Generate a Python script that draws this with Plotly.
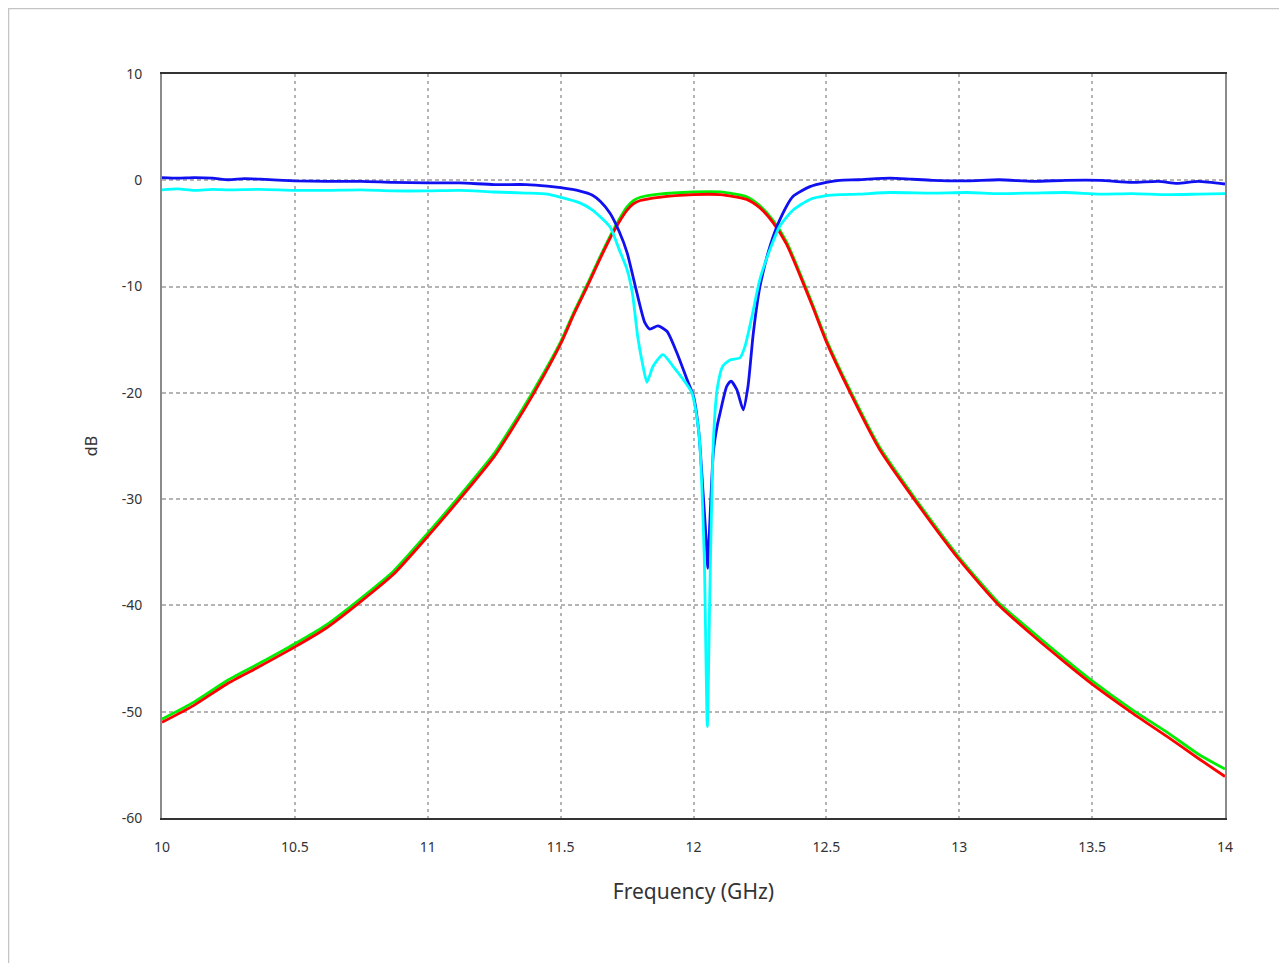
import plotly.graph_objects as go

# ---- S21 (green) / S12 (red) transmission ----
s21_freq = [10.00, 10.12, 10.25, 10.37, 10.50, 10.62, 10.75, 10.87, 11.00, 11.12, 11.25, 11.32,
            11.40, 11.50, 11.55, 11.60, 11.65, 11.70, 11.75, 11.775, 11.80, 11.87, 12.00, 12.10,
            12.20, 12.25, 12.30, 12.35, 12.40, 12.45, 12.50, 12.59, 12.70, 12.83, 13.00, 13.15,
            13.28, 13.40, 13.50, 13.65, 13.78, 13.90, 14.00]
s12_db = [-51.0, -49.4, -47.3, -45.7, -43.9, -42.1, -39.6, -37.1, -33.5, -30.0, -26.0, -23.3,
          -20.0, -15.4, -12.6, -10.0, -7.3, -4.8, -2.8, -2.2, -1.9, -1.6, -1.35, -1.35,
          -1.8, -2.6, -4.0, -6.0, -8.9, -12.0, -15.2, -20.0, -25.3, -30.0, -35.7, -40.0,
          -42.9, -45.4, -47.4, -50.1, -52.3, -54.4, -56.1]
s21_db = [-50.7, -49.1, -47.0, -45.4, -43.6, -41.8, -39.3, -36.8, -33.2, -29.7, -25.7, -23.0,
          -19.7, -15.2, -12.4, -9.8, -7.1, -4.6, -2.5, -1.9, -1.6, -1.3, -1.1, -1.1,
          -1.55, -2.4, -3.8, -5.8, -8.7, -11.8, -15.0, -19.8, -25.1, -29.8, -35.5, -39.8,
          -42.6, -45.1, -47.1, -49.8, -51.9, -54.0, -55.4]

# ---- S11 (blue) reflection ----
s11_freq = [10.00, 10.06, 10.12, 10.19, 10.25, 10.31, 10.37, 10.50, 10.62, 10.75, 10.87, 11.00,
            11.12, 11.25, 11.37, 11.45, 11.50, 11.57, 11.62, 11.65, 11.686, 11.72, 11.75, 11.787,
            11.817, 11.836, 11.866, 11.90, 11.937, 11.975, 12.00, 12.02, 12.035, 12.048, 12.054,
            12.06, 12.075, 12.09, 12.10, 12.125, 12.141, 12.163, 12.187, 12.205, 12.225, 12.25,
            12.288, 12.325, 12.375, 12.438, 12.50, 12.55, 12.62, 12.74, 12.82, 12.90, 13.03, 13.15,
            13.28, 13.40, 13.53, 13.65, 13.75, 13.82, 13.90, 14.00]
s11_db = [0.25, 0.2, 0.25, 0.2, 0.05, 0.15, 0.1, -0.05, -0.1, -0.1, -0.2, -0.25,
          -0.25, -0.4, -0.4, -0.55, -0.7, -1.0, -1.4, -2.0, -3.1, -4.8, -6.8, -10.6,
          -13.4, -14.0, -13.7, -14.2, -16.2, -18.7, -20.3, -23.7, -29.0, -34.0, -36.5,
          -33.0, -25.5, -23.0, -21.9, -19.4, -18.9, -19.7, -21.6, -19.4, -14.4, -10.0,
          -6.2, -3.7, -1.5, -0.6, -0.2, 0.0, 0.05, 0.2, 0.1, 0.0, -0.05, 0.05,
          -0.1, 0.0, 0.0, -0.2, -0.1, -0.3, -0.1, -0.35]

# ---- S22 (cyan) reflection ----
s22_freq = [10.00, 10.06, 10.12, 10.19, 10.25, 10.37, 10.50, 10.62, 10.75, 10.87, 11.00, 11.12,
            11.25, 11.37, 11.45, 11.50, 11.57, 11.62, 11.686, 11.72, 11.75, 11.77, 11.79, 11.81,
            11.825, 11.848, 11.885, 11.923, 11.96, 11.994, 12.02, 12.04, 12.052, 12.062, 12.075,
            12.09, 12.11, 12.137, 12.175, 12.194, 12.22, 12.25, 12.288, 12.325, 12.375, 12.438,
            12.50, 12.55, 12.62, 12.74, 12.90, 13.03, 13.15, 13.28, 13.40, 13.53, 13.65, 13.78,
            13.90, 14.00]
s22_db = [-0.9, -0.8, -0.95, -0.85, -0.9, -0.85, -0.95, -0.95, -0.9, -1.0, -1.0, -0.95,
          -1.1, -1.2, -1.3, -1.6, -2.1, -2.8, -4.4, -6.5, -8.4, -10.6, -14.7, -17.5,
          -19.0, -17.5, -16.4, -17.5, -18.7, -20.0, -23.7, -35.0, -51.4, -38.0, -24.4,
          -19.5, -17.5, -16.9, -16.7, -15.6, -12.8, -9.3, -6.5, -4.3, -2.8, -1.8,
          -1.45, -1.35, -1.3, -1.15, -1.2, -1.15, -1.25, -1.2, -1.15, -1.3, -1.25, -1.35,
          -1.3, -1.25]

x_ticks = [10, 10.5, 11, 11.5, 12, 12.5, 13, 13.5, 14]
x_tick_labels = ["10", "10.5", "11", "11.5", "12", "12.5", "13", "13.5", "14"]
y_ticks = [10, 0, -10, -20, -30, -40, -50, -60]
y_tick_labels = ["10", "0", "-10", "-20", "-30", "-40", "-50", "-60"]

FONT = "Noto Sans"

fig = go.Figure()
series = [
    ("S21", s21_freq, s21_db, "#00ee00"),
    ("S12", s21_freq, s12_db, "#ff0000"),
    ("S11", s11_freq, s11_db, "#1010f0"),
    ("S22", s22_freq, s22_db, "#00ffff"),
]
for name, fx, fy, col in series:
    fig.add_trace(go.Scatter(x=fx, y=fy, mode="lines", name=name,
                             line=dict(color=col, width=2.8, shape="spline", smoothing=0.6)))

# outer light-gray frame (container border) - figure starts at (8, 8) on the page
fig.add_shape(type="rect", xref="paper", yref="paper",
              x0=(8.5 - 162) / 1063, x1=(1330 - 162) / 1063,
              y0=(818 - 1000) / 744, y1=(818 - 8.5) / 744,
              line=dict(color="#c4c4c4", width=1.5), fillcolor="rgba(0,0,0,0)", layer="below")

fig.update_layout(
    width=1287, height=963,
    margin=dict(l=154, r=70, t=66, b=153),
    paper_bgcolor="white", plot_bgcolor="white",
    showlegend=False,
    font=dict(family=FONT, color="#333333"),
)
fig.update_xaxes(
    range=[10, 14], tickvals=x_ticks, ticktext=x_tick_labels,
    showgrid=True, gridcolor="#b4b4b4", gridwidth=2, griddash="3px,4px",
    showline=True, linecolor="#333333", linewidth=1.5, mirror=True,
    zeroline=False, ticks="", ticklabelstandoff=15,
    tickfont=dict(size=14, family=FONT, color="#333333"),
    title=dict(text="Frequency (GHz)", font=dict(size=21, family=FONT, color="#333333"), standoff=30),
)
fig.update_yaxes(
    range=[-60, 10], tickvals=y_ticks, ticktext=y_tick_labels,
    showgrid=True, gridcolor="#b4b4b4", gridwidth=2, griddash="4px,3px",
    showline=True, linecolor="#8a8a8a", linewidth=2, mirror=True,
    zeroline=False, ticks="", ticklabelstandoff=15,
    tickfont=dict(size=14, family=FONT, color="#333333"),
    title=dict(text="dB", font=dict(size=16, family=FONT, color="#333333"), standoff=20),
)

fig.write_html("out.html")
